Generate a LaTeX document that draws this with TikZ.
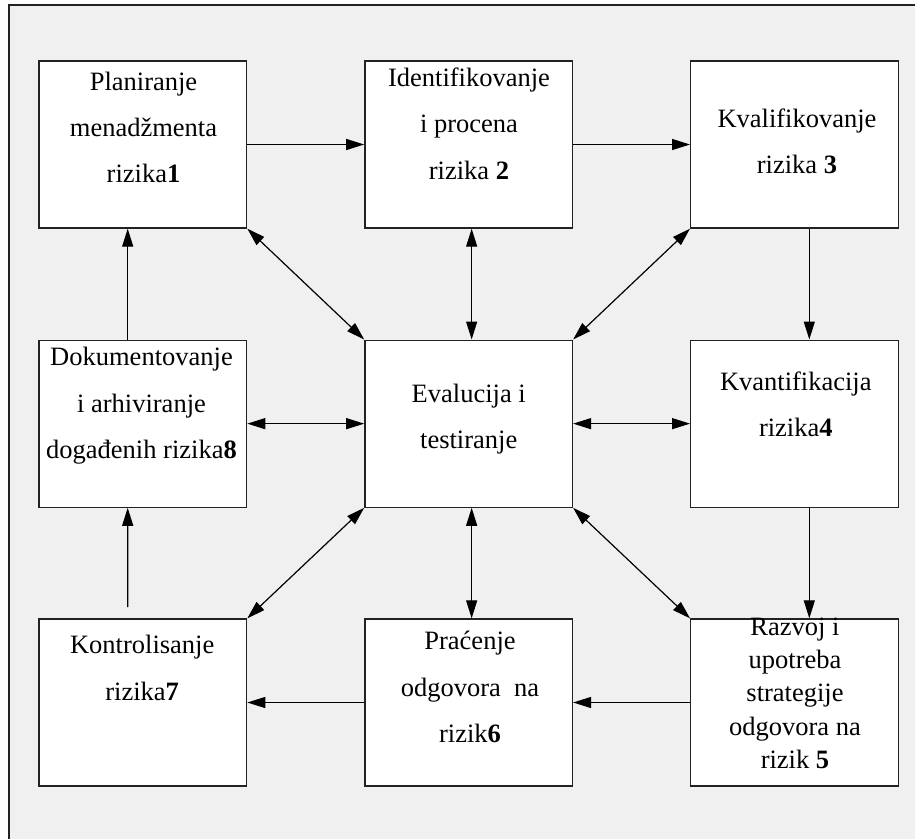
\documentclass[tikz,border=0pt]{standalone}
\usepackage{fontspec}
\setmainfont{Liberation Serif}
\usetikzlibrary{arrows.meta}
\definecolor{panel}{HTML}{F0F0F0}
\definecolor{edge}{HTML}{222222}
\tikzset{
  stage/.style={draw=edge, line width=1.3pt, fill=white, inner sep=0pt,
    minimum width=207.6pt, minimum height=167pt},
  % anchor=base sits on the last line of a multi-line label
  label/.style={align=center, inner sep=0pt, anchor=base,
    font=\fontsize{26.5}{46.3}\selectfont},
  tightlabel/.style={label, font=\fontsize{26.5}{33.3}\selectfont},
  flow/.style={draw=black, line width=1.2pt, -{Triangle[length=18pt,width=11pt]}},
  link/.style={draw=black, line width=1.2pt,
    {Triangle[length=18pt,width=11pt]}-{Triangle[length=18pt,width=11pt]}}
}
\begin{document}
\begin{tikzpicture}[x=1pt,y=1pt]
  \useasboundingbox (0,0) rectangle (915,-838);
  \clip (0,0) rectangle (915,-838);
  % outer panel
  \draw[fill=panel, draw=edge, line width=1.3pt] (9,-5) rectangle (930,-860);

  % stage boxes
  \node[stage] (b1) at (142.85,-144.5) {};
  \node[stage] (b2) at (468.65,-144.5) {};
  \node[stage] (b3) at (794.5,-144.5) {};
  \node[stage] (b8) at (142.85,-423.65) {};
  \node[stage] (bc) at (468.65,-423.65) {};
  \node[stage] (b4) at (794.5,-423.65) {};
  \node[stage] (b7) at (142.85,-702.5) {};
  \node[stage] (b6) at (468.65,-702.5) {};
  \node[stage] (b5) at (794.5,-702.5) {};

  % texts (positioned by the baseline of the last line)
  \node[label] (t1) at (143.5,-182.7) {Planiranje\\menadžmenta\\rizika\textbf{1}};
  \node[label] (t2) at (469,-179) {Identifikovanje\\i procena\\rizika \textbf{2}};
  \node[label] (t3) at (797,-173.3) {Kvalifikovanje\\rizika \textbf{3}};
  \node[label] (t8) at (141.5,-458.3) {Dokumentovanje\\i arhiviranje\\događenih rizika\textbf{8}};
  \node[label] (tc) at (468.7,-448.3) {Evalucija i\\testiranje};
  \node[label] (t4) at (795.8,-436.7) {Kvantifikacija\\rizika\textbf{4}};
  \node[label] (t7) at (142.2,-700) {Kontrolisanje\\rizika\textbf{7}};
  \node[label] (t6) at (470,-742.3) {Praćenje\\odgovora\ \ na\\rizik\textbf{6}};
  \node[tightlabel] (t5) at (795,-768.3) {Razvoj i\\upotreba\\strategije\\odgovora na\\rizik \textbf{5}};

  % main cycle
  \draw[flow] (b1.east) -- (b2.west);
  \draw[flow] (b2.east) -- (b3.west);
  \draw[flow] ([xshift=14.8pt]b3.south) -- ([xshift=14.8pt]b4.north);
  \draw[flow] ([xshift=14.8pt]b4.south) -- ([xshift=14.8pt]b5.north);
  \draw[flow] (b5.west) -- (b6.east);
  \draw[flow] (b6.west) -- (b7.east);
  \coordinate (c7) at (127.7,-607);
  \draw[flow] (c7) -- ([xshift=-15.15pt]b8.south);
  \draw[flow] ([xshift=-15.15pt]b8.north) -- ([xshift=-15.15pt]b1.south);

  % links with evaluation
  \draw[link] (b1.south east) -- (bc.north west);
  \draw[link] ([xshift=3pt]b2.south) -- ([xshift=3pt]bc.north);
  \draw[link] (b3.south west) -- (bc.north east);
  \draw[link] (bc.west) -- (b8.east);
  \draw[link] (bc.east) -- (b4.west);
  \draw[link] (bc.south west) -- (b7.north east);
  \draw[link] ([xshift=3pt]bc.south) -- ([xshift=3pt]b6.north);
  \draw[link] (bc.south east) -- (b5.north west);
\end{tikzpicture}
\end{document}
